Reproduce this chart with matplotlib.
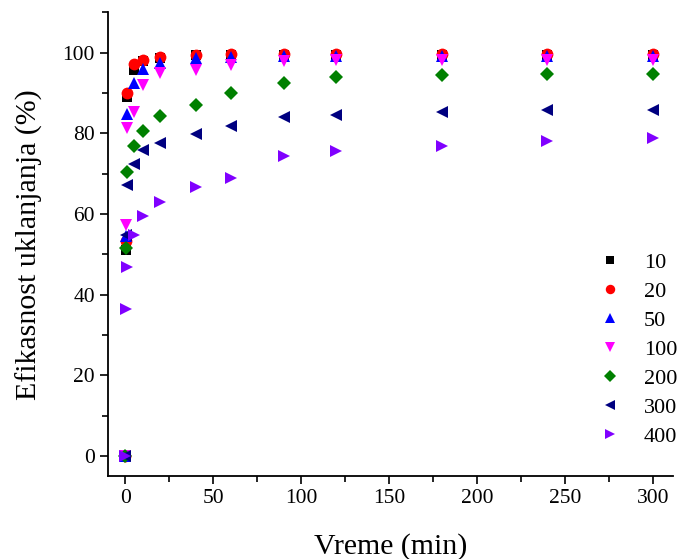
import matplotlib
matplotlib.use('Agg')
import matplotlib.pyplot as plt
from matplotlib.ticker import MultipleLocator

# vreme (min)
t = [0, 0.5, 1, 5, 10, 20, 40, 60, 90, 120, 180, 240, 300]

# efikasnost uklanjanja (%) po koncentraciji
c10 = [0, 51.0, 88.9, 95.8, 98.0, 98.7, 99.4, 99.5, 99.5, 99.5, 99.5, 99.5, 99.5]
c20 = [0, 53.3, 89.9, 97.3, 98.3, 99.0, 99.5, 99.6, 99.6, 99.6, 99.6, 99.6, 99.6]
c50 = [0, 54.5, 84.7, 92.5, 96.0, 97.4, 98.7, 99.0, 99.1, 99.1, 99.1, 99.1, 99.1]
c100 = [0, 57.4, 81.4, 85.3, 92.1, 95.0, 95.8, 97.0, 97.9, 98.1, 98.1, 98.3, 98.3]
c200 = [0, 51.7, 70.3, 76.9, 80.5, 84.3, 87.1, 90.0, 92.4, 94.0, 94.4, 94.8, 94.8]
c300 = [0, 54.7, 67.3, 72.3, 75.8, 77.5, 79.8, 81.8, 84.0, 84.5, 85.3, 85.7, 85.8]
c400 = [0, 36.4, 46.9, 54.7, 59.5, 62.9, 66.8, 69.0, 74.3, 75.6, 76.8, 78.0, 78.9]

series = [c10, c20, c50, c100, c200, c300, c400]
labels = ['10', '20', '50', '100', '200', '300', '400']
markers = ['s', 'o', '^', 'v', 'D', '<', '>']
colors = ['black', 'red', 'blue', 'magenta', 'green', 'navy', '#8000ff']
sizes = [7, 8.5, 9, 9, 7.5, 9, 9]

plt.rcParams['font.family'] = ['Liberation Serif', 'DejaVu Serif']

fig = plt.figure(figsize=(6.8, 5.59), dpi=100)
ax = fig.add_axes([0.159, 0.148, 0.831, 0.830])

for y, lab, m, c, s in zip(series, labels, markers, colors, sizes):
    ax.plot(t, y, linestyle='none', marker=m, color=c, markersize=s,
            markeredgewidth=0, label=lab)

ax.set_xlim(-9.7, 311.5)
ax.set_ylim(-5, 110)
ax.xaxis.set_major_locator(MultipleLocator(50))
ax.xaxis.set_minor_locator(MultipleLocator(25))
ax.yaxis.set_major_locator(MultipleLocator(20))
ax.yaxis.set_minor_locator(MultipleLocator(10))
ax.set_yticks([0, 20, 40, 60, 80, 100])

for side in ['top', 'right']:
    ax.spines[side].set_visible(False)
for side in ['left', 'bottom']:
    ax.spines[side].set_linewidth(1.3)

ax.tick_params(which='major', direction='out', length=6, width=1.2, labelsize=15.5)
ax.tick_params(which='minor', direction='out', length=4, width=1.2)

ax.set_xlabel('Vreme (min)', fontsize=21.5, labelpad=18)
ax.set_ylabel('Efikasnost uklanjanja (%)', fontsize=21.5, labelpad=14)

leg = ax.legend(loc='center left', bbox_to_anchor=(0.852, 0.374),
                bbox_transform=fig.transFigure, frameon=False, fontsize=16,
                handlelength=1.0, handletextpad=1.0, labelspacing=0.38,
                markerscale=0.8)

fig.savefig('out.png', dpi=100)
